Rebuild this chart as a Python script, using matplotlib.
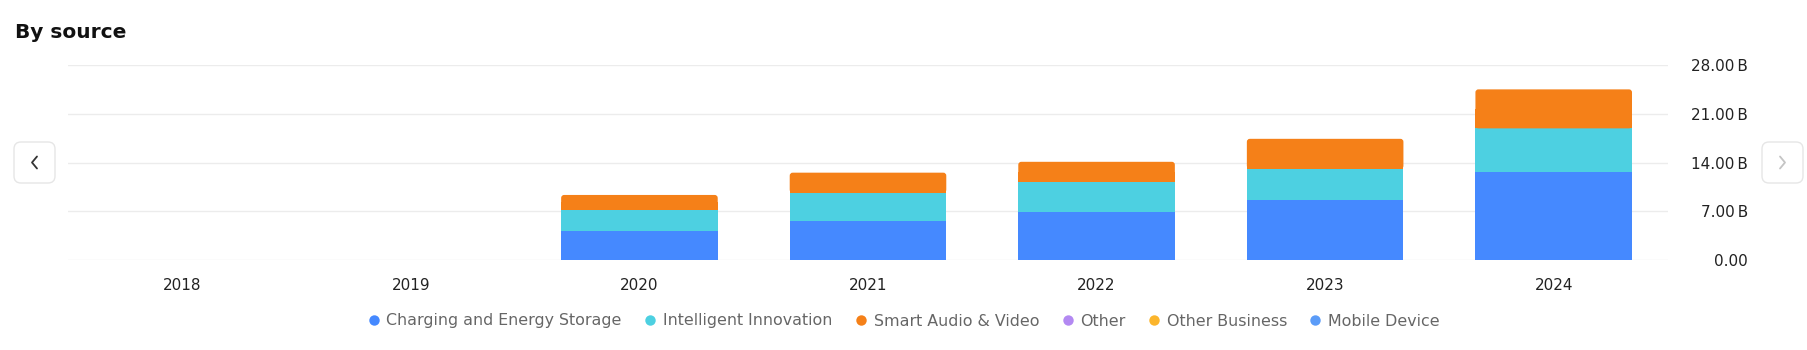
import numpy as np
import matplotlib
matplotlib.use("Agg")
import matplotlib.pyplot as plt
from matplotlib.patches import FancyBboxPatch
from matplotlib.lines import Line2D

# revenue by source, billions
years = ["2018", "2019", "2020", "2021", "2022", "2023", "2024"]
charging = [0, 0, 4.17, 5.60, 6.90, 8.60, 12.70]
intelligent = [0, 0, 3.01, 4.07, 4.30, 4.50, 6.20]
smart_audio = [0, 0, 2.16, 2.87, 2.90, 4.30, 5.60]

series_names = ["Charging and Energy Storage", "Intelligent Innovation",
                "Smart Audio & Video", "Other", "Other Business", "Mobile Device"]
series_colors = ["#4589ff", "#4dd0e1", "#f58018", "#b389f2", "#fbb52c", "#5b9cf8"]

y_ticks = [0, 7, 14, 21, 28]
y_labels = ["0.00", "7.00\u2009B", "14.00\u2009B", "21.00\u2009B", "28.00\u2009B"]

plt.rcParams["font.family"] = ["DejaVu Sans"]

W, H = 1808, 350
fig = plt.figure(figsize=(W / 100, H / 100), dpi=100)
ax = fig.add_axes([68 / W, 1 - 260 / H, 1600 / W, 195 / H])

x = np.arange(len(years))
bw = 0.685
ax.set_xlim(-0.5, len(years) - 0.5)
ax.set_ylim(0, 28)

bottom = np.zeros(len(years))
for vals, col in zip([charging, intelligent], series_colors[:2]):
    vals = np.array(vals)
    ax.bar(x, vals, bw, bottom=bottom, color=col, linewidth=0, zorder=3)
    bottom += vals

# top segment gets small rounded corners
px_x = 1600 / len(years)
px_y = 195 / 28
r = 3 / px_x
for xi, b, v in zip(x, bottom, smart_audio):
    if v <= 0:
        continue
    ax.add_patch(FancyBboxPatch((xi - bw / 2, b), bw, v,
                                boxstyle=f"round,pad=0,rounding_size={r}",
                                mutation_aspect=px_x / px_y,
                                facecolor=series_colors[2], linewidth=0, zorder=3))
ax.bar(x, np.array(smart_audio) / 2, bw, bottom=bottom, color=series_colors[2],
       linewidth=0, zorder=3)

ax.set_yticks(y_ticks)
ax.set_yticklabels(y_labels)
ax.yaxis.tick_right()
ax.tick_params(axis="y", length=0, pad=57.6, labelsize=11, colors="#222222")
for lab in ax.get_yticklabels():
    lab.set_horizontalalignment("right")
ax.set_xticks(x)
ax.set_xticklabels(years)
ax.tick_params(axis="x", length=0, pad=13, labelsize=11, colors="#222222")
ax.grid(axis="y", color="#ececec", linewidth=1, zorder=0)
for s in ax.spines.values():
    s.set_visible(False)

fig.text(15 / W, 1 - 38 / H, "By source", fontsize=14.5, fontweight="bold",
         color="#111111", ha="left", va="baseline")

handles = [Line2D([], [], marker="o", linestyle="none", markersize=7.5,
                  markerfacecolor=c, markeredgewidth=0) for c in series_colors]
fig.legend(handles, series_names, loc="center", bbox_to_anchor=(0.5, 1 - 321 / H),
           ncol=6, frameon=False, fontsize=11.4, handlelength=0.7,
           handletextpad=0.45, columnspacing=1.45, labelcolor="#666666")

# pager buttons at both sides
def button(x0, y0, arrow, color):
    box = FancyBboxPatch((x0 / 100, (H - y0 - 41) / 100), 0.41, 0.41,
                         boxstyle="round,pad=0,rounding_size=0.07",
                         transform=fig.dpi_scale_trans, facecolor="white",
                         edgecolor="#e6e6e6", linewidth=1)
    fig.add_artist(box)
    cx, cy = (x0 + 20.5) / 100, (H - y0 - 20.5) / 100
    d = 0.025 if arrow == "left" else -0.025
    fig.add_artist(Line2D([cx + d, cx - d, cx + d], [cy + 0.06, cy, cy - 0.06],
                          transform=fig.dpi_scale_trans, color=color,
                          linewidth=1.3, solid_capstyle="round"))

button(14, 142, "left", "#333333")
button(1762, 142, "right", "#c4c4c4")

fig.savefig("out.png", dpi=100, facecolor="white")
